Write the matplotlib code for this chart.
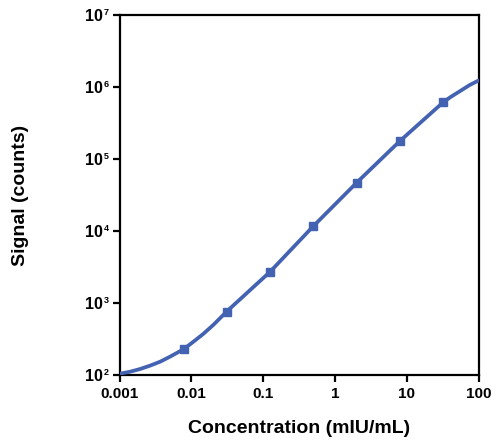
import matplotlib
matplotlib.use("Agg")
import matplotlib.pyplot as plt
from matplotlib.ticker import FixedLocator, FixedFormatter, NullFormatter

plt.rcParams['font.family'] = ['Liberation Sans', 'DejaVu Sans']
plt.rcParams['font.weight'] = 'bold'

# measured standards (concentration in mIU/mL, signal in counts)
conc = [0.0078, 0.031, 0.125, 0.5, 2, 8, 32]
signal = [228, 760, 2720, 11700, 46900, 178000, 614000]

# fitted curve
curve_x = [0.001, 0.0014, 0.00193, 0.00267, 0.00368, 0.00507, 0.0078,
           0.0107, 0.0148, 0.0204, 0.031, 0.125,
           0.5, 2, 8, 32, 41, 57, 75, 100]
curve_y = [104, 111, 121, 135, 153, 180, 228,
           290, 375, 500, 760, 2720,
           11700, 46900, 178000, 614000, 733000, 900000, 1070000, 1240000]

x_ticks = [0.001, 0.01, 0.1, 1, 10, 100]
x_labels = ["0.001", "0.01", "0.1", "1", "10", "100"]
y_ticks = [1e2, 1e3, 1e4, 1e5, 1e6, 1e7]
y_powers = ["2", "3", "4", "5", "6", "7"]

blue = "#4462b2"

fig = plt.figure(figsize=(5.0, 4.42), dpi=100)
ax = fig.add_axes([0.239, 0.1516, 0.718, 0.8138])

ax.plot(curve_x, curve_y, color=blue, lw=2.7, solid_capstyle='round',
        solid_joinstyle='round', zorder=3)
ax.plot(conc, signal, ls='none', marker='s', ms=5.5, color=blue, zorder=4)

ax.set_xscale('log')
ax.set_yscale('log')
ax.set_xlim(0.001, 100)
ax.set_ylim(1e2, 1e7)

ax.xaxis.set_major_locator(FixedLocator(x_ticks))
ax.xaxis.set_major_formatter(FixedFormatter(x_labels))
ax.yaxis.set_major_locator(FixedLocator(y_ticks))
ax.yaxis.set_major_formatter(NullFormatter())
ax.minorticks_off()

# y tick labels drawn as "10" with a small raised power
for yv, p in zip(y_ticks, y_powers):
    ax.annotate("10", xy=(0, yv), xycoords=('axes fraction', 'data'),
                xytext=(-12.2, -4), textcoords='offset points',
                ha='right', va='baseline', fontsize=11.5, fontweight='bold',
                annotation_clip=False)
    ax.annotate(p, xy=(0, yv), xycoords=('axes fraction', 'data'),
                xytext=(-7.5, 0.3), textcoords='offset points',
                ha='right', va='baseline', fontsize=6.5, fontweight='bold',
                annotation_clip=False)

for s in ax.spines.values():
    s.set_linewidth(1.6)
ax.tick_params(axis='both', which='major', direction='out', length=5, width=1.6,
               labelsize=11, pad=3.5)

ax.set_xlabel("Concentration (mIU/mL)", fontsize=14, fontweight='bold', labelpad=14)
ax.set_ylabel("Signal (counts)", fontsize=14, fontweight='bold', labelpad=57)

fig.savefig("out.png", dpi=100)
